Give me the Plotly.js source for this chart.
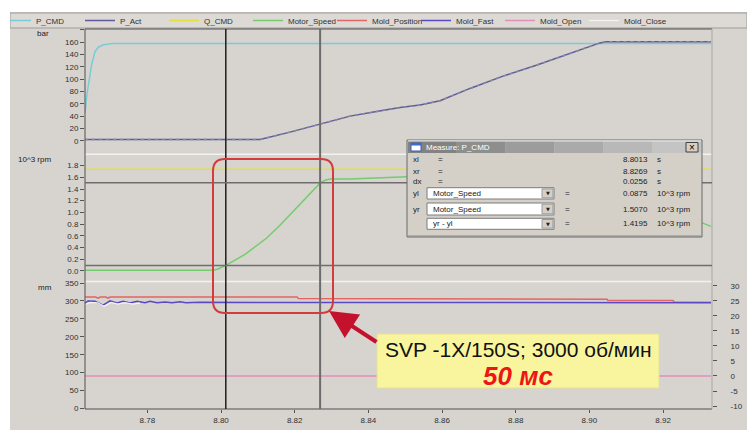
<!DOCTYPE html>
<html><head><meta charset="utf-8">
<script src="https://cdn.plot.ly/plotly-3.0.1.min.js"></script>
<style>html,body{margin:0;padding:0;background:#fff;overflow:hidden;} #chart{position:absolute;left:10px;top:12px;width:737px;height:418px;}</style>
</head><body><div id="chart"></div><script>
// ---------- data ----------
const tPCmd = [8.76308, 8.76371, 8.76490, 8.76580, 8.76669, 8.76805, 8.77068, 8.93301];
const pCmd  = [45, 80, 124, 145, 152, 156, 158, 158];

const tPAct = [8.76308, 8.81059, 8.81873, 8.82687, 8.83502, 8.84180, 8.84859, 8.85402, 8.85945, 8.86759, 8.87655, 8.88578, 8.89473, 8.90288, 8.90450, 8.93301];
const pAct  = [2, 2, 14, 27, 40, 47, 54, 58, 65, 85, 105, 123, 142, 159, 161, 161];

const tQCmd = [8.76308, 8.93301];
const qCmd  = [1.738, 1.738];

const tSpeed = [8.76308, 8.79783, 8.79919, 8.80155, 8.80651, 8.81240, 8.81601, 8.81963, 8.82280, 8.82505, 8.82687, 8.82823, 8.82959, 8.83502, 8.84316, 8.85049, 8.86000, 8.88000, 8.90000, 8.92000, 8.93060, 8.93301];
const motorSpeed = [0.01, 0.01, 0.03, 0.10, 0.28, 0.56, 0.78, 1.02, 1.24, 1.38, 1.50, 1.55, 1.57, 1.57, 1.59, 1.61, 1.62, 1.55, 1.30, 0.95, 0.82, 0.76];

const tMoldPos = [8.76308, 8.76600, 8.76660, 8.76730, 8.76880, 8.76930, 8.77000, 8.82063, 8.82100, 8.89473, 8.89500, 8.90478, 8.90500, 8.92269, 8.92300, 8.93301];
const moldPosition = [311, 311, 308, 311, 311, 308, 311, 311, 307, 307, 305, 305, 301, 301, 297, 296];

const tMoldFast = [8.76308, 8.76390, 8.76580, 8.76797, 8.76987, 8.77177, 8.77340, 8.77530, 8.77720, 8.77937, 8.78073, 8.78263, 8.78480, 8.78670, 8.78887, 8.79050, 8.79430, 8.90288, 8.90749, 8.91100, 8.93301];
const moldFast  = [294, 300, 299, 288, 300, 294, 299, 294, 299, 295, 299, 295, 297, 295, 298, 295, 296, 296, 295, 296, 295];

const tMoldOpen = [8.76308, 8.93301];
const moldOpen  = [0, 0];

const tMoldClose = [8.76308, 8.76450, 8.76650, 8.76830, 8.77020, 8.77200, 8.77400, 8.77600, 8.77800];
const moldClose  = [290, 296, 295, 285, 296, 291, 295, 291, 294];

const cursorX = [8.8013, 8.8269];
const cursorY = [0.0875, 1.5070];

const xTicks   = [8.78, 8.80, 8.82, 8.84, 8.86, 8.88, 8.90, 8.92];
const barTicks = [0, 20, 40, 60, 80, 100, 120, 140, 160, 180];
const rpmTicks = [0.0, 0.2, 0.4, 0.6, 0.8, 1.0, 1.2, 1.4, 1.6, 1.8, 2.0];
const mmTicks  = [0, 50, 100, 150, 200, 250, 300, 350];
const rightTicks = [-10, -5, 0, 5, 10, 15, 20, 25, 30];

const measureLabels = ['xl', 'xr', 'dx', 'yl', 'yr', ''];
const measureValues = ['8.8013', '8.8269', '0.0256', '0.0875', '1.5070', '1.4195'];
const measureUnits  = ['s', 's', 's', '10^3 rpm', '10^3 rpm', '10^3 rpm'];
const measureSelect = ['Motor_Speed', 'Motor_Speed', 'yr - yl'];

const calloutLine1 = 'SVP -1X/150S; 3000 об/мин';
const calloutLine2 = '50 мс';

// ---------- layout helpers (page pixel -> paper) ----------
const X0 = 85, Y1 = 409, W = 627, H = 380;
const px = x => (x - X0) / W;
const py = y => (Y1 - y) / H;
const FONT = 'Liberation Sans, Arial, sans-serif';

const traces = [
  {x: tPCmd, y: pCmd, name: 'P_CMD', yaxis: 'y', line: {color: '#78ccd6', width: 1.5}},
  {x: tPAct, y: pAct, name: 'P_Act', yaxis: 'y', line: {color: '#5e5aa0', width: 1.5}},
  {x: tPAct, y: pAct, name: 'P_Act', yaxis: 'y', showlegend: false, line: {color: '#8c8c94', width: 1.5, dash: '3px,4px'}},
  {x: tQCmd, y: qCmd, name: 'Q_CMD', yaxis: 'y2', line: {color: '#e6de3c', width: 1.5}},
  {x: tSpeed, y: motorSpeed, name: 'Motor_Speed', yaxis: 'y2', line: {color: '#74cc6c', width: 1.5}},
  {x: tMoldPos, y: moldPosition, name: 'Mold_Position', yaxis: 'y3', line: {color: '#e46464', width: 1.5}},
  {x: tMoldFast, y: moldFast, name: 'Mold_Fast', yaxis: 'y3', line: {color: '#5a48c4', width: 1.5}},
  {x: tMoldOpen, y: moldOpen, name: 'Mold_Open', yaxis: 'y4', line: {color: '#e48cbc', width: 1.5}},
  {x: tMoldClose, y: moldClose, name: 'Mold_Close', yaxis: 'y3', line: {color: '#f4f4f2', width: 1.2}}
].map(t => Object.assign({type: 'scatter', mode: 'lines', hoverinfo: 'skip'}, t));

const tickFont = {family: FONT, size: 8, color: '#303030'};
const yCommon = {showgrid: false, zeroline: false, showline: false, ticks: 'outside', ticklen: 4, tickwidth: 1, tickcolor: '#555', tickfont: tickFont, fixedrange: true};

const shapes = [];
const annotations = [];
function rect(x0, y0, x1, y1, fill, line, lw) {
  shapes.push({type: 'rect', xref: 'paper', yref: 'paper', x0: px(x0), x1: px(x1), y0: py(y1), y1: py(y0),
    fillcolor: fill, line: {color: line || 'rgba(0,0,0,0)', width: lw === undefined ? 1 : lw}, layer: 'above'});
}
function hline(x0, x1, y, color, w) {
  shapes.push({type: 'line', xref: 'paper', yref: 'paper', x0: px(x0), x1: px(x1), y0: py(y), y1: py(y), line: {color: color, width: w}, layer: 'above'});
}
function txt(text, x, y, opts) {
  annotations.push(Object.assign({xref: 'paper', yref: 'paper', x: px(x), y: py(y), text: text, showarrow: false,
    xanchor: 'left', yanchor: 'middle', font: {family: FONT, size: 8, color: '#202020'}}, opts || {}));
}

// legend bar background
shapes.push({type: 'rect', xref: 'paper', yref: 'paper', x0: px(10), x1: px(747), y0: py(28), y1: py(13), fillcolor: '#dddad5', line: {color: '#9c9c9c', width: 1}, layer: 'below'});

// plot frame
shapes.push({type: 'line', xref: 'paper', yref: 'paper', x0: 0, x1: 1, y0: 1, y1: 1, line: {color: '#505050', width: 1}});
shapes.push({type: 'line', xref: 'paper', yref: 'paper', x0: 0, x1: 0, y0: 0, y1: 1, line: {color: '#505050', width: 1}});
shapes.push({type: 'line', xref: 'paper', yref: 'paper', x0: 0, x1: 1, y0: 0, y1: 0, line: {color: '#505050', width: 1}});
shapes.push({type: 'line', xref: 'paper', yref: 'paper', x0: 1, x1: 1, y0: 0, y1: 1, line: {color: '#a6a6a6', width: 1}});
// panel separators
shapes.push({type: 'line', xref: 'paper', yref: 'paper', x0: 0, x1: 1, y0: py(154.3), y1: py(154.3), line: {color: '#f2f2f0', width: 1.5}, layer: 'below'});
shapes.push({type: 'line', xref: 'paper', yref: 'paper', x0: 0, x1: 1, y0: py(281.5), y1: py(281.5), line: {color: '#f2f2f0', width: 1.5}, layer: 'below'});

// cursors
shapes.push({type: 'line', xref: 'x', yref: 'paper', x0: cursorX[0], x1: cursorX[0], y0: 0, y1: 1, line: {color: '#1e1e1e', width: 1.5}});
shapes.push({type: 'line', xref: 'x', yref: 'paper', x0: cursorX[1], x1: cursorX[1], y0: 0, y1: 1, line: {color: '#6c6c6c', width: 2}});
cursorY.forEach(v => shapes.push({type: 'line', xref: 'paper', yref: 'y2', x0: 0, x1: 1, y0: v, y1: v, line: {color: '#6e6e6e', width: 1.5}}));

// red rounded box
(function () {
  const x0 = px(213), x1 = px(333), y0 = py(313), y1 = py(159), rx = 12 / W, ry = 12 / H;
  const p = `M ${x0 + rx},${y1} L ${x1 - rx},${y1} Q ${x1},${y1} ${x1},${y1 - ry} L ${x1},${y0 + ry} Q ${x1},${y0} ${x1 - rx},${y0} L ${x0 + rx},${y0} Q ${x0},${y0} ${x0},${y0 + ry} L ${x0},${y1 - ry} Q ${x0},${y1} ${x0 + rx},${y1} Z`;
  shapes.push({type: 'path', xref: 'paper', yref: 'paper', path: p, line: {color: '#d23c3c', width: 2}, layer: 'above'});
})();

// measure dialog
rect(407, 140, 702, 237, '#d4d0c8', '#6a6a6a', 1);
hline(408, 701, 141, '#ffffff', 1);
hline(408, 701, 236, '#8a8a8a', 1);
const tb = ['#828282', '#8e8e8e', '#9c9c9c', '#aaaaaa', '#b8b8b8', '#c4c4c4'];
tb.forEach((c, i) => rect(408 + i * 293 / 6, 141.5, 408 + (i + 1) * 293 / 6, 153, c, null, 0));
rect(411, 143, 421, 151, '#ffffff', '#3a5ea8', 1);
rect(411, 143, 421, 145.5, '#3a6ad0', null, 0);
txt('Measure: P_CMD', 424, 147.3, {font: {family: FONT, size: 8, color: '#ffffff'}});
rect(686, 142.5, 698, 152, '#d4d0c8', '#404040', 1);
txt('×', 692, 147.3, {xanchor: 'center', font: {family: FONT, size: 10, color: '#000'}});
const rowY = [160, 171.7, 181.7, 193.3, 209, 224];
const boxY = [[187.7, 199], [203, 215], [218.3, 229.3]];
boxY.forEach((b, i) => {
  rect(427, b[0], 554, b[1], '#ffffff', '#7c7c7c', 1);
  rect(542, b[0] + 1.2, 553, b[1] - 1.2, '#d4d0c8', '#9a9a9a', 1);
  txt('▼', 547.5, (b[0] + b[1]) / 2, {xanchor: 'center', font: {family: 'DejaVu Sans', size: 5, color: '#202020'}});
  txt(measureSelect[i], 431, (b[0] + b[1]) / 2);
});
measureLabels.forEach((l, i) => {
  if (l) txt(l, 411, rowY[i]);
  txt('=', i < 3 ? 436 : 563, rowY[i]);
  txt(measureValues[i], 650, rowY[i], {xanchor: 'right'});
  txt(measureUnits[i], 655, rowY[i]);
});

// axis unit labels
txt('bar', 35, 33);
txt('10^3 rpm', 16, 160);
txt('mm', 36, 287);

// callout
rect(377, 334, 659, 388, '#f8f59e', '#e6e292', 1);
txt(calloutLine1, 518, 349, {xanchor: 'center', font: {family: FONT, size: 21, color: '#111'}});
txt(calloutLine2, 518, 376, {xanchor: 'center', font: {family: FONT, size: 26, color: '#ee1515', weight: 'bold', style: 'italic'}});
annotations.push({xref: 'paper', yref: 'paper', x: px(329), y: py(311), ax: 49, ay: 32, text: '', showarrow: true,
  arrowhead: 2, arrowsize: 1.4, arrowwidth: 4, arrowcolor: '#c4122c'});

const layout = {
  width: 737, height: 418,
  margin: {l: 75, r: 35, t: 17, b: 21, autoexpand: false},
  paper_bgcolor: '#d7d4cf', plot_bgcolor: '#d7d4cf',
  font: {family: FONT, size: 8, color: '#303030'},
  showlegend: true,
  legend: {orientation: 'h', x: px(-4), y: py(20.5), xanchor: 'left', yanchor: 'middle', bgcolor: 'rgba(0,0,0,0)',
    font: {family: FONT, size: 8, color: '#303030'}, entrywidth: 39, entrywidthmode: 'pixels', itemwidth: 30, borderwidth: 0},
  xaxis: {domain: [0, 1], range: [8.76308, 8.93328], anchor: 'y3', tickvals: xTicks, ticktext: xTicks.map(v => v.toFixed(2)),
    ticks: 'outside', ticklen: 3, tickcolor: '#555', tickfont: tickFont, showgrid: false, zeroline: false, showline: false, fixedrange: true},
  yaxis: Object.assign({}, yCommon, {domain: [0.671, 1], range: [-21.6, 181.6], anchor: 'x', tickvals: barTicks, ticktext: barTicks.map(v => v === 180 ? '' : String(v))}),
  yaxis2: Object.assign({}, yCommon, {domain: [0.3368, 0.6697], range: [-0.1765, 1.991], anchor: 'x', tickvals: rpmTicks, ticktext: rpmTicks.map(v => v === 2.0 ? '' : v.toFixed(1))}),
  yaxis3: Object.assign({}, yCommon, {domain: [0, 0.3342], range: [-1.4, 352.8], anchor: 'x', tickvals: mmTicks, ticktext: mmTicks.map(String)}),
  yaxis4: Object.assign({}, yCommon, {overlaying: 'y3', side: 'right', anchor: 'x', range: [-11, 31.33], tickvals: rightTicks, ticktext: rightTicks.map(String), ticklabelstandoff: 12}),
  shapes: shapes,
  annotations: annotations
};

Plotly.newPlot('chart', traces, layout, {displayModeBar: false, staticPlot: true});
</script></body></html>
